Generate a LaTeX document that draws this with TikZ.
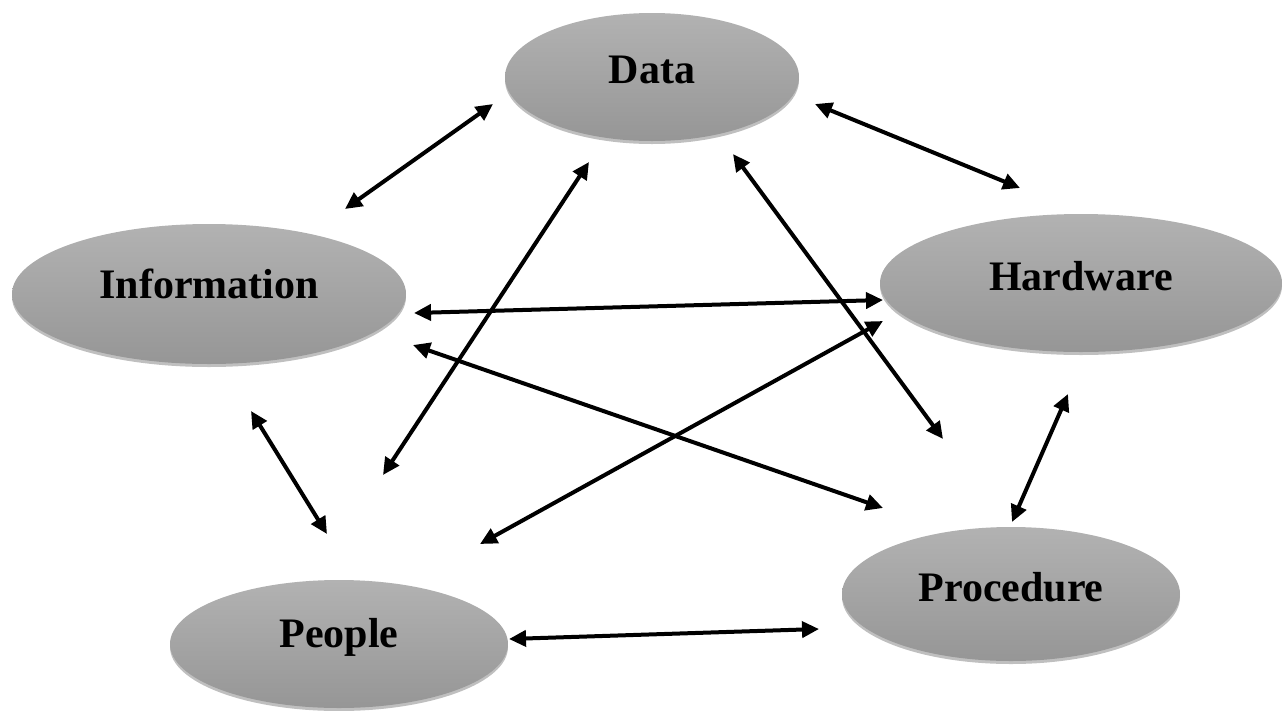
\documentclass[tikz,border=0pt]{standalone}
\usepackage{fontspec}
\setmainfont{Liberation Serif}
\usetikzlibrary{arrows.meta,shapes.geometric,shadows}
\definecolor{elltop}{RGB}{178,178,178}
\definecolor{ellbot}{RGB}{150,150,150}
\tikzset{
  blob/.style={ellipse, inner sep=0pt, top color=elltop, bottom color=ellbot,
    draw=none, drop shadow={shadow xshift=0pt, shadow yshift=-3pt, opacity=0.25, fill=black}},
  lbl/.style={font=\fontsize{42}{48}\selectfont\bfseries, inner sep=0pt},
  link/.style={line width=4pt, {Triangle[length=17pt,width=16pt]}-{Triangle[length=17pt,width=16pt]}}
}
\begin{document}
\begin{tikzpicture}[x=1pt,y=-1pt]
\useasboundingbox (0,0) rectangle (1285,710);
% ellipses
\node[blob, minimum width=294pt, minimum height=128pt] (data) at (652,77) {};
\node[blob, minimum width=394pt, minimum height=140pt] (info) at (209,294) {};
\node[blob, minimum width=402pt, minimum height=138pt] (hw) at (1081,283) {};
\node[blob, minimum width=338pt, minimum height=134pt] (proc) at (1011,594) {};
\node[blob, minimum width=338pt, minimum height=128pt] (people) at (339,644) {};
% labels
\node[lbl] (tdata) at ([yshift=7pt]data.center) {Data};
\node[lbl] (tinfo) at ([yshift=10pt]info.center) {Information};
\node[lbl] (thw) at ([yshift=7pt]hw.center) {Hardware};
\node[lbl] (tproc) at ([yshift=7pt]proc.center) {Procedure};
\node[lbl] (tpeople) at ([yshift=7pt]people.center) {People};
% arrow end points
\coordinate (id1) at (345,209); \coordinate (id2) at (493,104);
\coordinate (dh1) at (815,104); \coordinate (dh2) at (1020,188);
\coordinate (ih1) at (414,313); \coordinate (ih2) at (883,300);
\coordinate (ipr1) at (413,345); \coordinate (ipr2) at (883,508);
\coordinate (dpe1) at (589,162); \coordinate (dpe2) at (383,475);
\coordinate (dpr1) at (733,154); \coordinate (dpr2) at (943,439);
\coordinate (hpe1) at (883,321); \coordinate (hpe2) at (480,544);
\coordinate (ipe1) at (251,411); \coordinate (ipe2) at (327,534);
\coordinate (hpr1) at (1068,394); \coordinate (hpr2) at (1012,522);
\coordinate (ppr1) at (509,639); \coordinate (ppr2) at (819,629);
% connectors
\draw[link] (id1) -- (id2);
\draw[link] (dh1) -- (dh2);
\draw[link] (ih1) -- (ih2);
\draw[link] (ipr1) -- (ipr2);
\draw[link] (dpe1) -- (dpe2);
\draw[link] (dpr1) -- (dpr2);
\draw[link] (hpe1) -- (hpe2);
\draw[link] (ipe1) -- (ipe2);
\draw[link] (hpr1) -- (hpr2);
\draw[link] (ppr1) -- (ppr2);
\end{tikzpicture}
\end{document}
